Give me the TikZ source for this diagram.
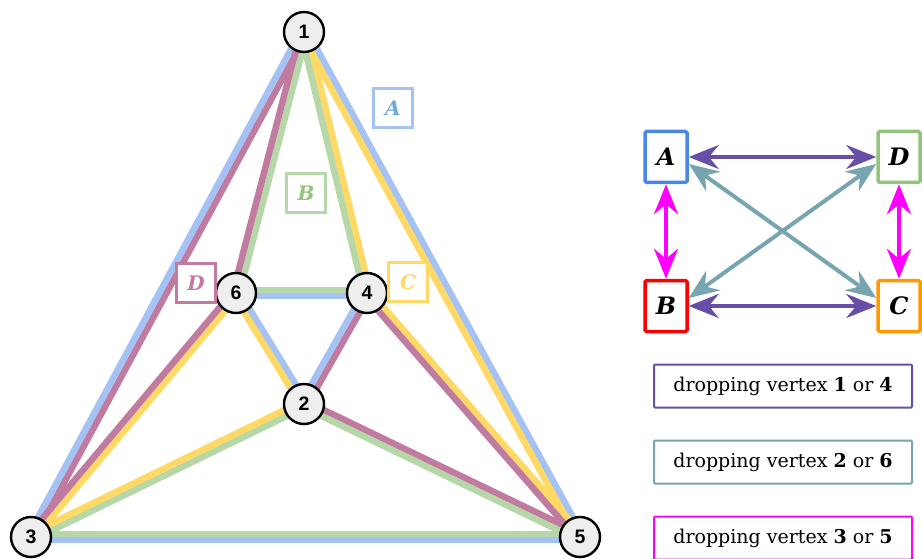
\documentclass[tikz,border=0pt]{standalone}
\usepackage{fontspec}
\setmainfont{DejaVu Serif}
\newfontfamily\numfont{Liberation Sans}
\usetikzlibrary{calc,arrows.meta}
\definecolor{cA}{HTML}{A4C2F4}
\definecolor{cB}{HTML}{B6D7A8}
\definecolor{cC}{HTML}{FFD966}
\definecolor{cD}{HTML}{C27BA0}
\definecolor{tA}{HTML}{6FA8DC}
\definecolor{tB}{HTML}{93C47D}
\definecolor{tC}{HTML}{FFD966}
\definecolor{tD}{HTML}{C27BA0}
\definecolor{kA}{HTML}{4A86E8}
\definecolor{kB}{HTML}{FF0000}
\definecolor{kC}{HTML}{FF9900}
\definecolor{kD}{HTML}{93C47D}
\definecolor{aP}{HTML}{674EA7}
\definecolor{aT}{HTML}{76A5AF}
\definecolor{aM}{HTML}{FF00FF}
\definecolor{nodefill}{HTML}{EEEEEE}
\pgfdeclarelayer{bg}
\pgfsetlayers{bg,main}
\tikzset{
  vert/.style={circle, draw=black, line width=2.4pt, fill=nodefill, minimum size=40pt, inner sep=0pt, font=\numfont\bfseries\fontsize{19.5}{19.5}\selectfont},
  edgeline/.style={line width=6.5pt},
  tag/.style={draw=#1, line width=2.2pt, fill=white, minimum width=39pt, minimum height=39pt, inner sep=0pt, font=\bfseries\itshape\fontsize{20}{20}\selectfont},
  key/.style={draw=#1, line width=3.5pt, rounded corners=1.5pt, fill=white, minimum width=42pt, minimum height=51pt, inner sep=0pt, font=\bfseries\itshape\fontsize{24}{24}\selectfont},
  legend/.style={draw=#1, line width=2pt, rounded corners=1pt, minimum width=258pt, minimum height=43pt, inner sep=0pt, font=\fontsize{19}{19}\selectfont},
  dbl/.style={line width=4pt, draw=#1, {Stealth[length=30pt,width=24pt,inset=10pt,fill=#1]}-{Stealth[length=30pt,width=24pt,inset=10pt,fill=#1]}}
}
\newcommand{\twin}[4]{%
  \draw[edgeline,#3] ($(#1)!3.2pt!90:(#2)$) -- ($(#2)!3.2pt!-90:(#1)$);
  \draw[edgeline,#4] ($(#1)!3.2pt!-90:(#2)$) -- ($(#2)!3.2pt!90:(#1)$);
}
\begin{document}
\begin{tikzpicture}[x=1pt,y=-1pt]
\useasboundingbox (0,0) rectangle (922,559);
% vertices
\node[vert] (n1) at (304,32) {1};
\node[vert] (n6) at (236,293) {6};
\node[vert] (n4) at (367,293) {4};
\node[vert] (n2) at (304,404) {2};
\node[vert] (n3) at (31,537) {3};
\node[vert] (n5) at (580,537) {5};
% edges, each carrying two colours
\begin{pgfonlayer}{bg}
\twin{n1}{n3}{cD}{cA}
\twin{n1}{n5}{cA}{cC}
\twin{n3}{n5}{cB}{cA}
\twin{n1}{n6}{cB}{cD}
\twin{n1}{n4}{cC}{cB}
\twin{n6}{n4}{cB}{cA}
\twin{n6}{n2}{cA}{cC}
\twin{n4}{n2}{cD}{cA}
\twin{n6}{n3}{cC}{cD}
\twin{n4}{n5}{cC}{cD}
\twin{n2}{n3}{cB}{cC}
\twin{n2}{n5}{cD}{cB}
\end{pgfonlayer}
% colour tags
\node[tag=cA, text=tA] (tgA) at (393,108) {A};
\node[tag=cB, text=tB] (tgB) at (306,193) {B};
\node[tag=cC, text=tC] (tgC) at (408,282) {C};
\node[tag=cD, text=tD] (tgD) at (196,283) {D};
% key graph
\node[key=kA] (kA) at (666,157) {A};
\node[key=kD] (kD) at (899,157) {D};
\node[key=kB] (kB) at (666,306) {B};
\node[key=kC] (kC) at (899,306) {C};
\coordinate (aAC) at (kA.east |- 0,164);
\coordinate (aCA) at (kC.west |- 0,298);
\coordinate (aDB) at (kD.west |- 0,164);
\coordinate (aBD) at (kB.east |- 0,298);
\draw[dbl=aT] (aAC) -- (aCA);
\draw[dbl=aT] (aDB) -- (aBD);
\draw[dbl=aP] (kA) -- (kD);
\draw[dbl=aP] (kB) -- (kC);
\draw[dbl=aM] (kA) -- (kB);
\draw[dbl=aM] (kD) -- (kC);
% legend
\node[legend=aP] (l1) at (783,386) {dropping vertex \textbf{1} or \textbf{4}};
\node[legend=aT] (l2) at (783,462) {dropping vertex \textbf{2} or \textbf{6}};
\node[legend=aM] (l3) at (783,538) {dropping vertex \textbf{3} or \textbf{5}};
\end{tikzpicture}
\end{document}
